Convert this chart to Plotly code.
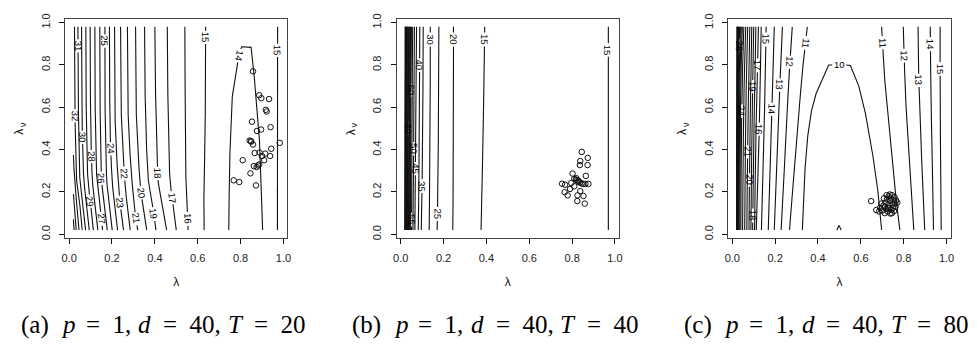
import numpy as np
import plotly.graph_objects as go

# ---------------------------------------------------------------- data
# Panel (a): p=1, d=40, T=20 -- contour levels and their lambda positions
A_KNOT_Y = [0.02, 0.10, 0.25, 0.50, 0.98]
A_LEVELS = [15, 16, 17, 18, 19, 20, 21, 22, 23, 24, 25, 26, 27, 28, 29, 30, 31, 32]
A_LEVEL_X = [
    [0.630, 0.628, 0.630, 0.635, 0.637],
    [0.555, 0.552, 0.545, 0.542, 0.540],
    [0.500, 0.490, 0.470, 0.462, 0.458],
    [0.455, 0.440, 0.415, 0.405, 0.400],
    [0.405, 0.395, 0.370, 0.356, 0.352],
    [0.362, 0.348, 0.330, 0.314, 0.310],
    [0.320, 0.308, 0.293, 0.276, 0.272],
    [0.285, 0.273, 0.260, 0.244, 0.240],
    [0.254, 0.243, 0.228, 0.215, 0.212],
    [0.226, 0.217, 0.200, 0.190, 0.188],
    [0.201, 0.193, 0.175, 0.168, 0.167],
    [0.178, 0.170, 0.151, 0.145, 0.143],
    [0.156, 0.148, 0.129, 0.122, 0.120],
    [0.134, 0.126, 0.108, 0.100, 0.098],
    [0.113, 0.105, 0.087, 0.080, 0.078],
    [0.094, 0.087, 0.068, 0.061, 0.058],
    [0.077, 0.070, 0.050, 0.044, 0.041],
    [0.061, 0.055, 0.035, 0.028, 0.025],
]
A_EDGE_33 = ([0.046, 0.040, 0.025, 0.020], [0.02, 0.10, 0.25, 0.375])
A_EDGE_34 = ([0.033, 0.027, 0.020], [0.02, 0.10, 0.19])
A_EDGE_35 = ([0.023, 0.020], [0.02, 0.07])
A_MIN_14 = ([0.745, 0.748, 0.757, 0.780, 0.803, 0.849, 0.861, 0.875, 0.887, 0.903],
            [0.02, 0.30, 0.62, 0.78, 0.886, 0.886, 0.775, 0.62, 0.48, 0.02])
A_RIGHT_15 = ([0.972, 0.972, 0.973], [0.02, 0.50, 0.98])
A_LABELS = [(32, 0.025, 0.56), (31, 0.041, 0.89), (30, 0.062, 0.458), (29, 0.100, 0.157),
            (28, 0.100, 0.366), (27, 0.151, 0.073), (26, 0.151, 0.265), (25, 0.167, 0.913),
            (24, 0.190, 0.404), (23, 0.236, 0.150), (22, 0.259, 0.288), (21, 0.313, 0.073),
            (20, 0.333, 0.196), (19, 0.398, 0.096), (18, 0.413, 0.288), (17, 0.480, 0.173),
            (16, 0.552, 0.073), (15, 0.637, 0.930), (14, 0.790, 0.844), (15, 0.972, 0.870)]
A_PTS_X = [0.858, 0.887, 0.897, 0.933, 0.918, 0.922, 0.853, 0.896, 0.940, 0.876, 0.842,
           0.848, 0.850, 0.858, 0.983, 0.943, 0.866, 0.889, 0.915, 0.900, 0.938, 0.810,
           0.910, 0.862, 0.875, 0.882, 0.887, 0.846, 0.768, 0.794, 0.872]
A_PTS_Y = [0.770, 0.657, 0.643, 0.639, 0.588, 0.580, 0.532, 0.495, 0.506, 0.488, 0.443,
           0.440, 0.438, 0.424, 0.432, 0.404, 0.384, 0.386, 0.381, 0.370, 0.370, 0.350,
           0.350, 0.322, 0.318, 0.325, 0.330, 0.288, 0.255, 0.247, 0.231]

# Panel (b): p=1, d=40, T=40
B_KNOT_Y = [0.02, 0.25, 0.50, 0.75, 0.98]
B_LEVELS = [15, 20, 25, 30, 35, 40, 45, 50, 55, 60, 65, 70, 75, 80, 85, 90, 95, 100,
            105, 110, 115, 120]
B_LEVEL_X = [
    [0.375, 0.380, 0.385, 0.389, 0.392],
    [0.243, 0.245, 0.247, 0.247, 0.246],
    [0.170, 0.174, 0.176, 0.177, 0.178],
    [0.133, 0.135, 0.137, 0.138, 0.138],
    [0.096, 0.100, 0.103, 0.104, 0.105],
    [0.082, 0.085, 0.087, 0.088, 0.089],
    [0.066, 0.068, 0.070, 0.072, 0.074],
    [0.057, 0.059, 0.061, 0.062, 0.064],
    [0.050, 0.052, 0.053, 0.054, 0.056],
    [0.045, 0.046, 0.047, 0.048, 0.050],
    [0.042, 0.043, 0.044, 0.045, 0.046],
    [0.039, 0.040, 0.041, 0.042, 0.043],
    [0.036, 0.037, 0.038, 0.039, 0.040],
    [0.033, 0.034, 0.035, 0.036, 0.037],
    [0.031, 0.031, 0.032, 0.033, 0.034],
    [0.028, 0.029, 0.030, 0.030, 0.031],
    [0.026, 0.027, 0.027, 0.028, 0.029],
    [0.024, 0.025, 0.025, 0.026, 0.027],
    [0.023, 0.023, 0.024, 0.024, 0.025],
    [0.021, 0.022, 0.022, 0.022, 0.023],
    [0.020, 0.021, 0.021, 0.021, 0.022],
    [0.020, 0.020, 0.020, 0.020, 0.021],
]
B_RIGHT_15 = ([0.969, 0.969, 0.969], [0.02, 0.50, 0.98])
B_LABELS = [(15, 0.390, 0.920), (20, 0.246, 0.920), (25, 0.172, 0.096), (30, 0.138, 0.920),
            (35, 0.100, 0.227), (40, 0.088, 0.800), (45, 0.068, 0.310), (50, 0.061, 0.404),
            (55, 0.052, 0.070), (60, 0.049, 0.680), (80, 0.030, 0.500), (15, 0.969, 0.870)]
B_PTS_X = [0.845, 0.838, 0.873, 0.836, 0.872, 0.802, 0.864, 0.810, 0.818, 0.824, 0.830,
           0.836, 0.845, 0.852, 0.862, 0.876, 0.796, 0.810, 0.767, 0.753, 0.765, 0.790,
           0.779, 0.838, 0.853, 0.825, 0.824, 0.859, 0.820, 0.828]
B_PTS_Y = [0.389, 0.346, 0.361, 0.327, 0.327, 0.287, 0.276, 0.262, 0.258, 0.255, 0.252,
           0.245, 0.240, 0.238, 0.238, 0.238, 0.242, 0.227, 0.234, 0.239, 0.199, 0.214,
           0.184, 0.204, 0.181, 0.184, 0.157, 0.145, 0.265, 0.248]

# Panel (c): p=1, d=40, T=80
C_KNOT_Y = [0.02, 0.25, 0.50, 0.75, 0.98]
C_LEFT_LEVELS = [11, 12, 13, 14, 15, 16, 17, 18, 19, 20, 21, 22, 23, 24,
                 25, 26, 27, 28, 29, 30, 31, 32, 33, 34]
C_LEFT_X = [
    [0.267, 0.285, 0.305, 0.325, 0.350],
    [0.228, 0.240, 0.252, 0.265, 0.280],
    [0.196, 0.205, 0.214, 0.224, 0.234],
    [0.168, 0.175, 0.182, 0.190, 0.196],
    [0.136, 0.143, 0.149, 0.154, 0.158],
    [0.112, 0.119, 0.126, 0.131, 0.135],
    [0.104, 0.107, 0.111, 0.117, 0.122],
    [0.095, 0.098, 0.101, 0.106, 0.110],
    [0.087, 0.089, 0.092, 0.096, 0.100],
    [0.078, 0.080, 0.083, 0.087, 0.091],
    [0.068, 0.070, 0.073, 0.077, 0.082],
    [0.058, 0.060, 0.062, 0.066, 0.072],
    [0.048, 0.050, 0.052, 0.056, 0.063],
    [0.040, 0.041, 0.043, 0.047, 0.054],
    [0.035, 0.036, 0.037, 0.040, 0.047],
    [0.031, 0.032, 0.033, 0.036, 0.042],
    [0.028, 0.029, 0.030, 0.032, 0.038],
    [0.026, 0.027, 0.028, 0.030, 0.034],
    [0.024, 0.025, 0.026, 0.028, 0.031],
    [0.023, 0.024, 0.024, 0.026, 0.029],
    [0.022, 0.022, 0.023, 0.024, 0.027],
    [0.021, 0.021, 0.022, 0.023, 0.025],
    [0.020, 0.021, 0.021, 0.022, 0.023],
    [0.020, 0.020, 0.020, 0.021, 0.022],
]
C_RIGHT_LEVELS = [11, 12, 13, 14, 15]
C_RIGHT_X = [
    [0.782, 0.755, 0.730, 0.710, 0.697],
    [0.847, 0.830, 0.815, 0.805, 0.798],
    [0.898, 0.888, 0.878, 0.870, 0.867],
    [0.939, 0.935, 0.930, 0.926, 0.924],
    [0.975, 0.973, 0.971, 0.970, 0.970],
]
C_MIN_10 = ([0.327, 0.333, 0.345, 0.362, 0.385, 0.410, 0.450, 0.550, 0.585, 0.612,
             0.635, 0.658, 0.678, 0.697],
            [0.02, 0.20, 0.40, 0.55, 0.65, 0.71, 0.80, 0.80, 0.72, 0.62, 0.50, 0.36,
             0.22, 0.02])
C_DIP = ([0.488, 0.498, 0.508], [0.02, 0.042, 0.02])
C_LABELS = [(10, 0.500, 0.800), (11, 0.705, 0.905), (12, 0.798, 0.844), (13, 0.875, 0.727),
            (14, 0.921, 0.898), (15, 0.960, 0.782), (11, 0.335, 0.905), (12, 0.257, 0.813),
            (13, 0.211, 0.706), (14, 0.173, 0.590), (15, 0.157, 0.921), (16, 0.131, 0.497),
            (17, 0.118, 0.798), (18, 0.095, 0.088), (19, 0.095, 0.698), (20, 0.080, 0.258),
            (21, 0.072, 0.389), (24, 0.041, 0.582), (28, 0.034, 0.891)]
C_PTS_X = [0.648, 0.672, 0.685, 0.690, 0.700, 0.705, 0.712, 0.715, 0.718, 0.722, 0.725,
           0.728, 0.730, 0.733, 0.736, 0.738, 0.740, 0.742, 0.745, 0.748, 0.750, 0.752,
           0.755, 0.757, 0.760, 0.762, 0.765, 0.708, 0.695, 0.720, 0.735, 0.770, 0.745,
           0.727, 0.712]
C_PTS_Y = [0.157, 0.115, 0.108, 0.125, 0.112, 0.135, 0.100, 0.150, 0.120, 0.165, 0.108,
           0.140, 0.180, 0.125, 0.158, 0.098, 0.170, 0.115, 0.185, 0.140, 0.125, 0.160,
           0.110, 0.175, 0.145, 0.130, 0.160, 0.170, 0.145, 0.185, 0.188, 0.150, 0.100,
           0.125, 0.130]

TICKS = [0.0, 0.2, 0.4, 0.6, 0.8, 1.0]
TICK_TEXT = ["0.0", "0.2", "0.4", "0.6", "0.8", "1.0"]
X_TITLE = "λ"
PANEL_TAGS = ["a", "b", "c"]
PANEL_P = [1, 1, 1]
PANEL_D = [40, 40, 40]
PANEL_T = [20, 40, 80]

# ---------------------------------------------------------------- geometry
W, H = 979, 347
PANEL_LEFT = [61.7, 396.0, 730.3]
PANEL_W = 224.0
PANEL_TOP, PANEL_BOT = 14.0, 238.0
AX_RANGE = [-0.0184, 1.0184]
SCALE = PANEL_W / (AX_RANGE[1] - AX_RANGE[0])   # px per data unit
LABEL_FS = 9.5
CAP_FS = 25
SANS = "Liberation Sans"
SERIF = "Liberation Serif"
EN = "\u2002"
# Times-compatible advance widths (em) for the caption glyphs
SERIF_EM = {"(": 0.333, ")": 0.333, "a": 0.444, "b": 0.5, "c": 0.444, "=": 0.564,
            ",": 0.25, EN: 0.5, " ": 0.25, "p": 0.5, "d": 0.5, "T": 0.556}


def text_em(s):
    return sum(SERIF_EM.get(ch, 0.5) for ch in s)


def caption_pieces(tag, p, d, t):
    # (text, italic, gap before in em)
    return [(f"({tag})", False, 0.0), ("p", True, 0.5), (f"={EN}{p},", False, 0.5),
            ("d", True, 0.3), (f"={EN}{d},", False, 0.5),
            ("T", True, 0.3), (f"={EN}{t}", False, 0.5)]


def caption_annotations(pieces, center_px, mid_px):
    total = sum(g + text_em(s) for s, _, g in pieces) * CAP_FS
    x = center_px - total / 2
    out = []
    for s, italic, gap in pieces:
        x += gap * CAP_FS
        out.append(dict(x=x / W, y=1 - mid_px / H, xref="paper", yref="paper", text=s,
                        showarrow=False, xanchor="left", yanchor="middle",
                        font=dict(family=SERIF, size=CAP_FS, color="#000",
                                  style="italic" if italic else "normal")))
        x += text_em(s) * CAP_FS
    return out


def table_lines(levels, rows, knot_y):
    return [(lv, list(xs), list(knot_y)) for lv, xs in zip(levels, rows)]


def densify(xs, ys, step=0.0015):
    ox, oy = [xs[0]], [ys[0]]
    for i in range(len(xs) - 1):
        seg = np.hypot(xs[i + 1] - xs[i], ys[i + 1] - ys[i])
        n = max(1, int(np.ceil(seg / step)))
        t = np.arange(1, n + 1) / n
        ox.extend(xs[i] + t * (xs[i + 1] - xs[i]))
        oy.extend(ys[i] + t * (ys[i + 1] - ys[i]))
    return np.array(ox), np.array(oy)


def build_panel(lines, labels, axis_id):
    dense = [(lv, *densify(xs, ys)) for lv, xs, ys in lines]
    keep = [np.ones(len(dx), bool) for _, dx, _ in dense]
    annos = []
    for lv, lx, ly in labels:
        best = None
        for k, (lv2, dx, dy) in enumerate(dense):
            if lv2 != lv:
                continue
            d = np.hypot(dx - lx, dy - ly)
            j = int(np.argmin(d))
            if best is None or d[j] < best[0]:
                best = (d[j], k, j)
        _, k, j = best
        _, dx, dy = dense[k]
        j0, j1 = max(0, j - 4), min(len(dx) - 1, j + 4)
        vx = (dx[j1] - dx[j0])
        vy = -(dy[j1] - dy[j0])
        if vy < 0 or (abs(vy) < 1e-9 and vx < 0):
            vx, vy = -vx, -vy
        ang = float(np.degrees(np.arctan2(vy, vx)))
        txt = str(lv)
        r = (len(txt) * 0.556 * LABEL_FS / 2 + 1.5) / SCALE
        keep[k] &= np.hypot(dx - dx[j], dy - dy[j]) > r
        annos.append(dict(x=float(dx[j]), y=float(dy[j]), xref=f"x{axis_id}", yref=f"y{axis_id}",
                          text=txt, textangle=ang, showarrow=False,
                          xanchor="center", yanchor="middle",
                          font=dict(family=SANS, size=LABEL_FS, color="#000")))
    tx, ty = [], []
    for (lv, dx, dy), m in zip(dense, keep):
        prev = False
        for x, y, ok in zip(dx, dy, m):
            if ok:
                tx.append(float(x)); ty.append(float(y)); prev = True
            elif prev:
                tx.append(None); ty.append(None); prev = False
        tx.append(None); ty.append(None)
    return tx, ty, annos


panels = []
a_lines = table_lines(A_LEVELS, A_LEVEL_X, A_KNOT_Y)
a_lines += [(33, *A_EDGE_33), (34, *A_EDGE_34), (35, *A_EDGE_35),
            (14, *A_MIN_14), (15, *A_RIGHT_15)]
panels.append((a_lines, A_LABELS, A_PTS_X, A_PTS_Y))

b_lines = table_lines(B_LEVELS, B_LEVEL_X, B_KNOT_Y) + [(15, *B_RIGHT_15)]
panels.append((b_lines, B_LABELS, B_PTS_X, B_PTS_Y))

c_lines = table_lines(C_LEFT_LEVELS, C_LEFT_X, C_KNOT_Y)
c_lines += table_lines(C_RIGHT_LEVELS, C_RIGHT_X, C_KNOT_Y)
c_lines += [(10, *C_MIN_10), (9, *C_DIP)]
panels.append((c_lines, C_LABELS, C_PTS_X, C_PTS_Y))

fig = go.Figure()
annotations = []
layout_axes = {}
title_font = dict(family=SANS, size=12, color="#111")
for i, (lines, labels, px, py) in enumerate(panels):
    n = i + 1
    tx, ty, annos = build_panel(lines, labels, n)
    annotations += annos
    fig.add_trace(go.Scatter(x=tx, y=ty, mode="lines", xaxis=f"x{n}", yaxis=f"y{n}",
                             line=dict(color="#111", width=1.1), hoverinfo="skip",
                             showlegend=False))
    fig.add_trace(go.Scatter(x=px, y=py, mode="markers", xaxis=f"x{n}", yaxis=f"y{n}",
                             marker=dict(symbol="circle-open", size=5.5, color="#111",
                                         line=dict(width=1, color="#111")),
                             showlegend=False))
    left = PANEL_LEFT[i]
    common = dict(range=AX_RANGE, showgrid=False, zeroline=False, showline=True, mirror=True,
                  linecolor="#444", linewidth=1.2, ticks="outside", ticklen=5, tickwidth=1,
                  tickcolor="#111", tickvals=TICKS, ticktext=TICK_TEXT,
                  tickfont=dict(family=SANS, size=11, color="#222"), ticklabelstandoff=5)
    layout_axes[f"xaxis{n}"] = dict(domain=[left / W, (left + PANEL_W) / W], anchor=f"y{n}",
                                    title=dict(text=X_TITLE, font=title_font, standoff=14),
                                    **common)
    layout_axes[f"yaxis{n}"] = dict(domain=[1 - PANEL_BOT / H, 1 - PANEL_TOP / H],
                                    anchor=f"x{n}", tickangle=-90, **common)
    # y-axis title: lambda with a subscript nu, both rotated
    annotations.append(dict(x=(left - 46.7) / W, y=1 - 129.5 / H, xref="paper", yref="paper",
                            text="λ", textangle=-90, showarrow=False, xanchor="center",
                            yanchor="middle", font=title_font))
    annotations.append(dict(x=(left - 43.2) / W, y=1 - 122.0 / H, xref="paper", yref="paper",
                            text="ν", textangle=-90, showarrow=False, xanchor="center",
                            yanchor="middle", font=dict(family=SANS, size=9, color="#111")))
    cx = left + PANEL_W / 2
    annotations += caption_annotations(
        caption_pieces(PANEL_TAGS[i], PANEL_P[i], PANEL_D[i], PANEL_T[i]), cx - 15.0, 326.5)

fig.update_layout(width=W, height=H, margin=dict(l=0, r=0, t=0, b=0),
                  paper_bgcolor="white", plot_bgcolor="white",
                  annotations=annotations, **layout_axes)
fig.write_html("out.html")
